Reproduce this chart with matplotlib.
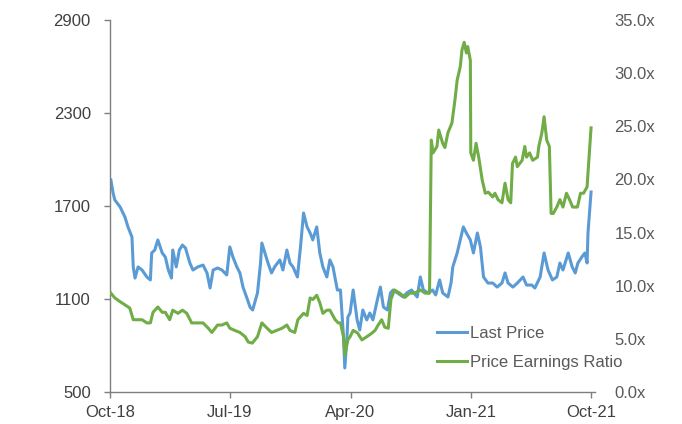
import matplotlib
matplotlib.use("Agg")
import matplotlib.pyplot as plt
import matplotlib.dates as mdates
import pandas as pd
from matplotlib.ticker import FuncFormatter

plt.rcParams["font.family"] = ["Liberation Sans", "DejaVu Sans"]

# Last Price (left axis)
price_dates = [
    "2018-10-03", "2018-10-08", "2018-10-12", "2018-10-24", "2018-11-04", "2018-11-11",
    "2018-11-20", "2018-11-23", "2018-11-27", "2018-12-04", "2018-12-13", "2018-12-24",
    "2019-01-01", "2019-01-04", "2019-01-11", "2019-01-18", "2019-01-28", "2019-02-04",
    "2019-02-11", "2019-02-18", "2019-02-21", "2019-03-01", "2019-03-08", "2019-03-15",
    "2019-03-22", "2019-04-01", "2019-04-08", "2019-04-19", "2019-05-01", "2019-05-10",
    "2019-05-17", "2019-05-24", "2019-06-03", "2019-06-13", "2019-06-24", "2019-07-01",
    "2019-07-08", "2019-07-17", "2019-07-24", "2019-07-31", "2019-08-09", "2019-08-16",
    "2019-08-22", "2019-09-02", "2019-09-09", "2019-09-12", "2019-09-19", "2019-09-26",
    "2019-10-04", "2019-10-11", "2019-10-23", "2019-10-30", "2019-11-08", "2019-11-15",
    "2019-11-22", "2019-12-02", "2019-12-09", "2019-12-16", "2019-12-24", "2019-12-31",
    "2020-01-06", "2020-01-15", "2020-01-22", "2020-01-29", "2020-02-07", "2020-02-14",
    "2020-02-21", "2020-03-02", "2020-03-09", "2020-03-16", "2020-03-19", "2020-03-24",
    "2020-03-26", "2020-03-31", "2020-04-07", "2020-04-16", "2020-04-22", "2020-04-29",
    "2020-05-08", "2020-05-15", "2020-05-22", "2020-06-01", "2020-06-08", "2020-06-15",
    "2020-06-24", "2020-07-01", "2020-07-07", "2020-07-17", "2020-07-30", "2020-08-07",
    "2020-08-18", "2020-08-31", "2020-09-07", "2020-09-14", "2020-09-25", "2020-10-05",
    "2020-10-12", "2020-10-21", "2020-10-28", "2020-11-09", "2020-11-16", "2020-11-20",
    "2020-11-30", "2020-12-07", "2020-12-14", "2020-12-21", "2020-12-30", "2021-01-06",
    "2021-01-15", "2021-01-22", "2021-01-29", "2021-02-08", "2021-02-19", "2021-03-01",
    "2021-03-12", "2021-03-19", "2021-03-26", "2021-04-06", "2021-04-16", "2021-04-29",
    "2021-05-07", "2021-05-19", "2021-05-26", "2021-06-07", "2021-06-16", "2021-06-25",
    "2021-07-05", "2021-07-15", "2021-07-22", "2021-07-29", "2021-08-10", "2021-08-19",
    "2021-08-26", "2021-09-01", "2021-09-10", "2021-09-17", "2021-09-22", "2021-09-24",
    "2021-10-01",
]
last_price = [
    1868, 1784, 1739, 1694, 1629, 1565,
    1500, 1307, 1235, 1307, 1287, 1242,
    1223, 1397, 1416, 1481, 1397, 1371,
    1287, 1235, 1416, 1307, 1416, 1448,
    1429, 1332, 1287, 1307, 1319, 1268,
    1171, 1287, 1300, 1287, 1255, 1436,
    1371, 1307, 1268, 1177, 1106, 1048,
    1029, 1139, 1332, 1461, 1397, 1332,
    1268, 1307, 1352, 1287, 1416, 1332,
    1307, 1242, 1436, 1655, 1565, 1526,
    1481, 1565, 1397, 1307, 1242, 1352,
    1307, 1158, 1158, 855, 655, 855,
    984, 1010, 1158, 965, 900, 1029,
    965, 1010, 965, 1093, 1177, 1048,
    1029, 1139, 1158, 1139, 1113, 1139,
    1158, 1113, 1242, 1158, 1139, 1158,
    1126, 1223, 1139, 1113, 1203, 1307,
    1397, 1481, 1565, 1526, 1481, 1397,
    1526, 1436, 1242, 1203, 1203, 1177,
    1203, 1268, 1203, 1177, 1203, 1242,
    1190, 1190, 1171, 1242, 1397, 1287,
    1223, 1242, 1332, 1287, 1397, 1307,
    1268, 1332, 1371, 1397, 1332, 1526,
    1790,
]

# Price Earnings Ratio (right axis)
pe_dates = [
    "2018-10-03", "2018-10-12", "2018-10-24", "2018-11-04", "2018-11-15", "2018-11-23",
    "2018-12-03", "2018-12-13", "2018-12-24", "2019-01-01", "2019-01-07", "2019-01-18",
    "2019-01-28", "2019-02-04", "2019-02-14", "2019-02-21", "2019-03-05", "2019-03-15",
    "2019-03-25", "2019-04-05", "2019-04-16", "2019-05-01", "2019-05-13", "2019-05-21",
    "2019-06-03", "2019-06-13", "2019-06-24", "2019-07-01", "2019-07-12", "2019-07-24",
    "2019-08-05", "2019-08-12", "2019-08-21", "2019-09-02", "2019-09-12", "2019-09-24",
    "2019-10-04", "2019-10-16", "2019-10-28", "2019-11-08", "2019-11-15", "2019-11-26",
    "2019-12-03", "2019-12-16", "2019-12-24", "2019-12-31", "2020-01-06", "2020-01-15",
    "2020-01-22", "2020-01-29", "2020-02-07", "2020-02-14", "2020-02-26", "2020-03-04",
    "2020-03-09", "2020-03-16", "2020-03-19", "2020-03-26", "2020-03-31", "2020-04-07",
    "2020-04-17", "2020-04-27", "2020-05-08", "2020-05-20", "2020-05-27", "2020-06-03",
    "2020-06-11", "2020-06-18", "2020-06-26", "2020-07-02", "2020-07-10", "2020-07-22",
    "2020-08-03", "2020-08-14", "2020-08-25", "2020-09-07", "2020-09-18", "2020-09-28",
    "2020-10-02", "2020-10-06", "2020-10-15", "2020-10-19", "2020-10-28", "2020-11-02",
    "2020-11-09", "2020-11-18", "2020-11-25", "2020-11-30", "2020-12-07", "2020-12-11",
    "2020-12-16", "2020-12-21", "2020-12-24", "2020-12-30", "2020-12-31", "2021-01-06",
    "2021-01-12", "2021-01-18", "2021-01-26", "2021-02-02", "2021-02-09", "2021-02-19",
    "2021-02-24", "2021-03-03", "2021-03-12", "2021-03-19", "2021-03-26", "2021-04-01",
    "2021-04-05", "2021-04-12", "2021-04-16", "2021-04-27", "2021-05-03", "2021-05-07",
    "2021-05-14", "2021-05-21", "2021-06-01", "2021-06-04", "2021-06-11", "2021-06-16",
    "2021-06-22", "2021-06-28", "2021-07-02", "2021-07-07", "2021-07-15", "2021-07-22",
    "2021-07-29", "2021-08-06", "2021-08-13", "2021-08-20", "2021-08-31", "2021-09-07",
    "2021-09-14", "2021-09-22", "2021-09-24", "2021-10-01",
]
pe_ratio = [
    9.3, 8.85, 8.5, 8.2, 7.9, 6.8,
    6.8, 6.8, 6.5, 6.5, 7.5, 8.0,
    7.5, 7.5, 6.8, 7.7, 7.4, 7.7,
    7.4, 6.5, 6.5, 6.5, 6.0, 5.6,
    6.3, 6.3, 6.5, 6.0, 5.8, 5.6,
    5.2, 4.7, 4.6, 5.2, 6.5, 6.0,
    5.6, 5.8, 6.0, 6.3, 5.8, 5.6,
    6.8, 7.4, 7.2, 8.85, 8.7, 9.1,
    8.4, 7.4, 7.7, 7.7, 6.8, 6.5,
    6.5, 5.2, 3.5, 4.9, 5.2, 5.8,
    5.55, 4.9, 5.2, 5.55, 5.8, 6.3,
    6.8, 6.1, 6.0, 8.7, 9.6, 9.3,
    8.9, 9.3, 9.3, 9.6, 9.3, 9.3,
    23.7, 22.5, 23.1, 24.65, 23.4, 23.0,
    24.4, 25.3, 27.5, 29.35, 30.6, 32.2,
    32.9, 31.9, 32.5, 31.2, 22.5, 21.8,
    23.4, 22.1, 19.95, 18.7, 18.8, 18.35,
    18.7, 18.1, 17.8, 19.65, 18.1, 17.8,
    21.5, 22.1, 21.2, 21.8, 23.1, 22.1,
    22.5, 21.8, 22.1, 23.1, 24.4, 25.9,
    23.7, 23.1, 16.8, 16.8, 17.4, 18.1,
    17.4, 18.7, 18.1, 17.4, 17.4, 18.7,
    18.7, 19.3, 20.6, 24.85,
]

left_ticks = [500, 1100, 1700, 2300, 2900]
right_ticks = [0, 5, 10, 15, 20, 25, 30, 35]
x_ticks = ["2018-10-01", "2019-07-01", "2020-04-01", "2021-01-01", "2021-10-01"]

BLUE = "#5B9BD5"
GREEN = "#70AD47"
TEXT = "#404040"
GREY_TEXT = "#595959"
AXIS = "#7F7F7F"

fig = plt.figure(figsize=(6.82, 4.24), dpi=100)
ax = fig.add_axes([110 / 682, 1 - 392 / 424, 485 / 682, 372 / 424])
ax2 = ax.twinx()

ax.plot(pd.to_datetime(price_dates), last_price, color=BLUE, lw=2.2,
        solid_joinstyle="round", label="Last Price")
ax2.plot(pd.to_datetime(pe_dates), pe_ratio, color=GREEN, lw=2.2,
         solid_joinstyle="round", label="Price Earnings Ratio")

ax.set_xlim(pd.Timestamp("2018-10-01"), pd.Timestamp("2021-10-10"))
ax.set_ylim(500, 2900)
ax2.set_ylim(0, 35)

ax.set_yticks(left_ticks)
ax2.set_yticks(right_ticks)
ax2.yaxis.set_major_formatter(FuncFormatter(lambda v, p: f"{v:.1f}x"))
ax.set_xticks(pd.to_datetime(x_ticks))
ax.xaxis.set_major_formatter(mdates.DateFormatter("%b-%y"))

for s in ["top", "right"]:
    ax.spines[s].set_visible(False)
for s in ax2.spines.values():
    s.set_visible(False)
ax.spines["left"].set_color(AXIS)
ax.spines["bottom"].set_color(AXIS)
ax.spines["left"].set_linewidth(1.0)
ax.spines["bottom"].set_linewidth(1.0)

ax.tick_params(axis="y", length=4.3, width=1.0, color=AXIS, pad=9.5,
               labelsize=12, labelcolor=TEXT)
ax.tick_params(axis="x", length=4.3, width=1.0, color=AXIS, pad=5,
               labelsize=12, labelcolor=TEXT)
ax2.tick_params(axis="y", length=0, pad=14, labelsize=12, labelcolor=GREY_TEXT)

h1, l1 = ax.get_legend_handles_labels()
h2, l2 = ax2.get_legend_handles_labels()
fig.legend(h1 + h2, l1 + l2, loc="upper left",
           bbox_to_anchor=(437 / 682, 1 - 326 / 424), bbox_transform=fig.transFigure,
           frameon=False, fontsize=12, labelcolor=GREY_TEXT,
           handlelength=1.8, handletextpad=0.2, labelspacing=0.85,
           borderpad=0, borderaxespad=0)

fig.savefig("out.png", dpi=100)
